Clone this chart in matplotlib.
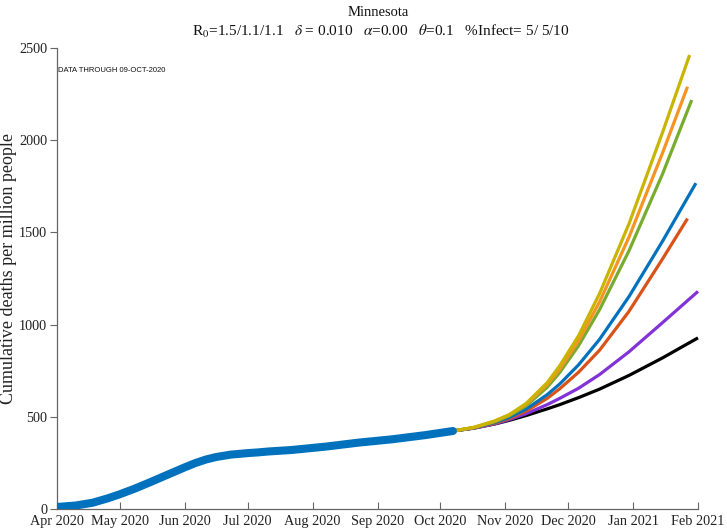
import matplotlib
matplotlib.use("Agg")
import matplotlib.pyplot as plt
import matplotlib.dates as mdates
from datetime import datetime

plt.rcParams['font.family'] = ['Liberation Serif', 'DejaVu Serif']
plt.rcParams['mathtext.fontset'] = 'stix'

def d(s):
    return datetime.strptime(s, "%Y-%m-%d")

# Observed (smoothed) cumulative deaths per million
obs_dates = ["2020-04-01", "2020-04-10", "2020-04-18", "2020-04-25", "2020-05-01",
             "2020-05-08", "2020-05-15", "2020-05-25", "2020-06-01", "2020-06-06",
             "2020-06-11", "2020-06-16", "2020-06-23", "2020-07-01", "2020-07-06",
             "2020-07-11", "2020-07-22", "2020-08-07", "2020-08-23", "2020-09-08",
             "2020-09-24", "2020-10-07"]
obs_vals = [11, 19, 34, 57, 80, 110, 143, 192, 226, 249, 268, 282, 295, 303, 307,
            312, 320, 338, 360, 378, 401, 423]

# Projection scenarios (shared dates; final point is each scenario's end date)
proj_dates = ["2020-10-07", "2020-10-17", "2020-10-27", "2020-11-03", "2020-11-11",
              "2020-11-21", "2020-11-27", "2020-12-06", "2020-12-16", "2020-12-30",
              "2021-01-15"]

yellow_vals = [423, 443, 478, 512, 573, 685, 777, 940, 1168, 1545, 2040, 2462]
orange_vals = [423, 442, 476, 511, 568, 674, 758, 913, 1123, 1473, 1929, 2290]
green_vals  = [423, 441, 473, 506, 560, 660, 740, 886, 1081, 1399, 1815, 2218]
blue_vals   = [423, 440, 469, 497, 542, 620, 678, 782, 920, 1151, 1451, 1767]
red_vals    = [423, 439, 465, 491, 531, 600, 652, 742, 861, 1071, 1355, 1575]
purple_vals = [423, 438, 462, 485, 517, 566, 600, 655, 729, 852, 1010, 1180]
black_vals  = [423, 439, 461, 481, 507, 543, 566, 604, 650, 724, 819, 928]

end_dates = {"yellow": "2021-01-28", "orange": "2021-01-27", "green": "2021-01-29",
             "blue": "2021-01-31", "red": "2021-01-27", "purple": "2021-02-01",
             "black": "2021-02-01"}

colors = {"yellow": "#C9B400", "orange": "#F39423", "green": "#77AC30",
          "blue": "#0072BD", "red": "#D95319", "purple": "#8233D8", "black": "#000000"}

series = [("black", black_vals), ("purple", purple_vals), ("red", red_vals),
          ("blue", blue_vals), ("green", green_vals), ("orange", orange_vals),
          ("yellow", yellow_vals)]

yticks = [0, 500, 1000, 1500, 2000, 2500]
xtick_dates = ["2020-04-01", "2020-05-01", "2020-06-01", "2020-07-01", "2020-08-01",
               "2020-09-01", "2020-10-01", "2020-11-01", "2020-12-01", "2021-01-01",
               "2021-02-01"]

W, H = 727, 529
fig = plt.figure(figsize=(W / 100, H / 100), dpi=100)
ax = fig.add_axes([57 / W, (H - 509) / H, (698 - 57) / W, (509 - 48) / H])

for name, vals in series:
    dd = [d(s) for s in proj_dates] + [d(end_dates[name])]
    ax.plot(dd, vals, color=colors[name], lw=2.3, solid_capstyle='butt',
            solid_joinstyle='round', zorder=2, clip_on=False)

ax.plot([d(s) for s in obs_dates], obs_vals, color="#0072BD", lw=5.8,
        solid_capstyle='round', solid_joinstyle='round', zorder=3)

ax.set_xlim(d("2020-04-01"), d("2021-02-01"))
ax.set_ylim(0, 2500)
ax.set_yticks(yticks)
ax.set_xticks([d(s) for s in xtick_dates])
ax.xaxis.set_major_formatter(mdates.DateFormatter('%b %Y'))

for sp in ['top', 'right']:
    ax.spines[sp].set_visible(False)
for sp in ['left', 'bottom']:
    ax.spines[sp].set_color('#666666')
    ax.spines[sp].set_linewidth(0.9)

ax.tick_params(axis='x', direction='in', length=5, color='#666666', labelsize=10.3,
               labelcolor='#222222', pad=4)
ax.tick_params(axis='y', direction='out', length=5, color='#666666', labelsize=10.3,
               labelcolor='#222222', pad=2)

ax.set_ylabel("Cumulative deaths per million people", fontsize=13, color='#222222')
ax.yaxis.set_label_coords((17 - 57) / (698 - 57), (509 - 268) / 461)

fig.text(378 / W, 1 - 13 / H, "Minnesota", ha='center', va='center', fontsize=10.5, color='#111111')
fig.text(381 / W, 1 - 31 / H,
         r"R$_0$=1.5/1.1/1.1   $\delta$ = 0.010   $\alpha$=0.00   $\theta$=0.1   %Infect= 5/ 5/10",
         ha='center', va='center', fontsize=11, color='#111111')

ax.text(0.002, (509 - 70) / 461, "DATA THROUGH 09-OCT-2020", transform=ax.transAxes,
        fontsize=5.5, family='Liberation Sans', ha='left', va='center', color='#111111')

fig.savefig("out.png", dpi=100)
